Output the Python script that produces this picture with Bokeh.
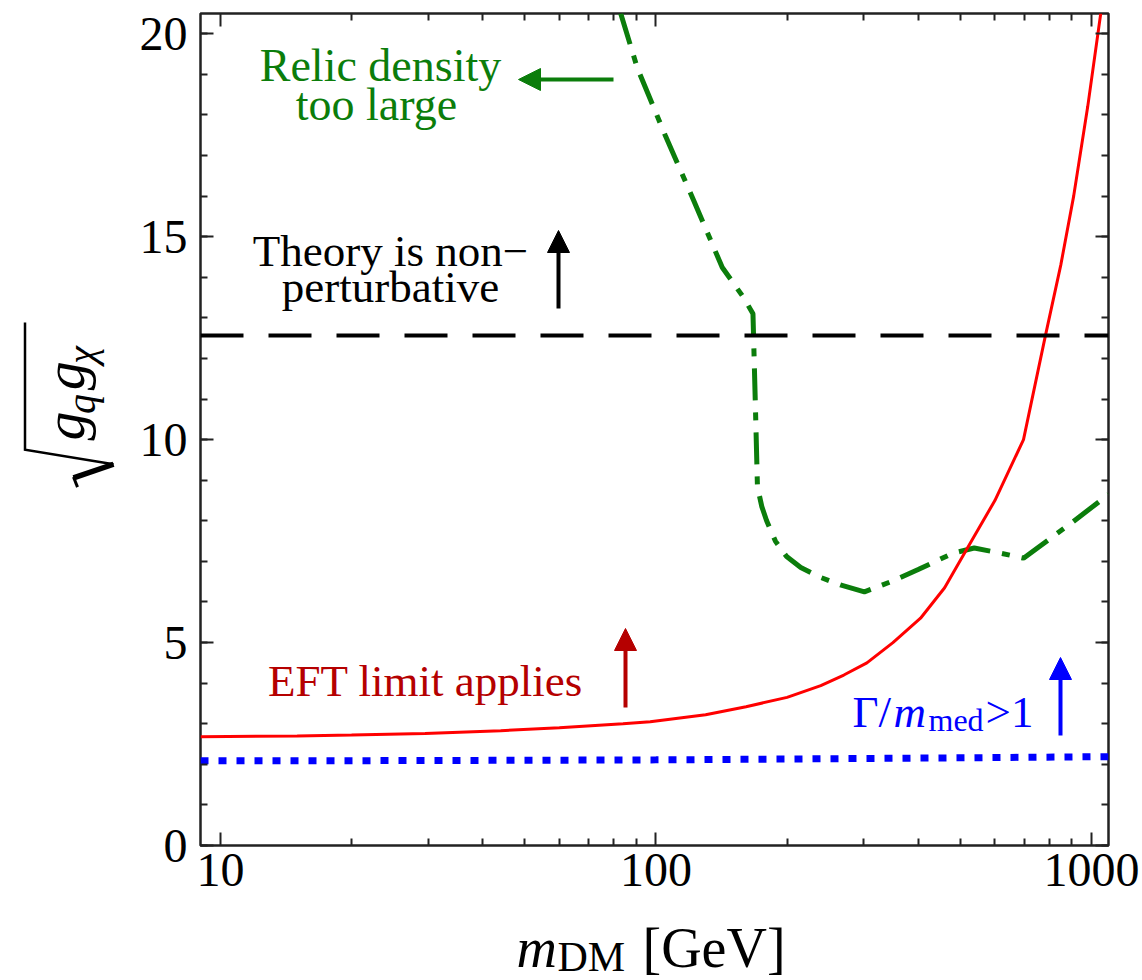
import numpy as np
from bokeh.plotting import figure
from bokeh.layouts import row, column
from bokeh.models import (Label, Arrow, NormalHead, Span, LinearAxis, LogAxis,
                          FixedTicker, CustomJSTickFormatter, Range1d)
from bokeh.core.properties import value
from bokeh.embed import file_html
from bokeh.resources import INLINE

# ---------------- data ----------------
EFT_X = [9, 15, 20, 29.5, 44, 60, 84, 97, 130, 161, 200, 239, 270, 305, 350, 405, 460, 517, 600, 698, 784, 850, 910, 980, 1050]
EFT_Y = [2.68, 2.70, 2.72, 2.76, 2.83, 2.90, 3.00, 3.05, 3.22, 3.42, 3.65, 3.94, 4.20, 4.50, 5.00, 5.60, 6.35, 7.30, 8.50, 10.0, 12.57, 14.3, 16.0, 18.2, 20.5]

RELIC_X = [83, 90.6, 105, 122, 142, 159, 167, 169, 171, 175, 179.5, 188, 199.5, 215, 237, 265, 301, 350, 400, 480, 538, 620, 698, 900, 1094]
RELIC_Y = [20.5, 19.16, 17.5, 15.9, 14.24, 13.5, 13.1, 11.0, 8.84, 8.35, 8.0, 7.5, 7.12, 6.85, 6.62, 6.42, 6.25, 6.52, 6.80, 7.20, 7.33, 7.20, 7.08, 7.95, 8.65]

WIDTH_X = [9, 20, 50, 100, 200, 500, 1100]
WIDTH_Y = [2.09, 2.09, 2.10, 2.11, 2.13, 2.16, 2.19]

PERTURBATIVE_LIMIT = 4 * np.pi

X_MAJOR = [10, 100, 1000]
X_TICK_LABELS = ["10", "100", "1000"]
X_MINOR = [20, 30, 40, 50, 60, 70, 80, 90, 200, 300, 400, 500, 600, 700, 800, 900]
Y_MAJOR = [0, 5, 10, 15, 20]
Y_TICK_LABELS = ["0", "5", "10", "15", "20"]
Y_MINOR = list(range(0, 21))

SERIF = "Liberation Serif"
GREEN = "#0b7d0b"
DARKRED = "#b50000"
BLUE = "#0000ff"
RED = "#ff0000"

YLAB_W = 120      # width of the strip that holds the y-axis title
MAIN_H = 910      # height of the main figure
XLAB_H = 70       # height of the strip that holds the x-axis title

p = figure(width=1142 - YLAB_W, height=MAIN_H, x_axis_type="log",
           x_range=Range1d(9.0, 1094), y_range=Range1d(0, 20.5),
           output_backend="svg", toolbar_location=None,
           min_border_left=80, min_border_right=34,
           min_border_top=13, min_border_bottom=MAIN_H - 845)
p.xgrid.visible = False
p.ygrid.visible = False
p.outline_line_color = "#222222"
p.outline_line_width = 2.5
p.background_fill_color = "white"
p.border_fill_color = "white"

xt = FixedTicker(ticks=X_MAJOR, minor_ticks=X_MINOR)
yt = FixedTicker(ticks=Y_MAJOR, minor_ticks=Y_MINOR)


def style_axis(ax, labels):
    ax.axis_line_color = None
    ax.major_tick_in = 13
    ax.major_tick_out = 0
    ax.minor_tick_in = 7
    ax.minor_tick_out = 0
    ax.major_tick_line_width = 2
    ax.minor_tick_line_width = 2
    ax.major_tick_line_color = "#222222"
    ax.minor_tick_line_color = "#222222"
    if labels:
        ax.major_label_text_font = SERIF
        ax.major_label_text_font_size = "48px"
        ax.major_label_text_color = "black"
    else:
        ax.formatter = CustomJSTickFormatter(code="return ''")
        ax.major_label_text_font_size = "1px"
        ax.major_label_standoff = 0


bx = p.xaxis[0]
bx.ticker = xt
bx.major_label_overrides = dict(zip(X_MAJOR, X_TICK_LABELS))
style_axis(bx, True)
bx.major_label_standoff = 8

ly = p.yaxis[0]
ly.ticker = yt
ly.major_label_overrides = dict(zip(Y_MAJOR, Y_TICK_LABELS))
style_axis(ly, True)
ly.major_label_standoff = 13

top = LogAxis(ticker=xt)
style_axis(top, False)
p.add_layout(top, "above")
right = LinearAxis(ticker=yt)
style_axis(right, False)
p.add_layout(right, "right")

# ---------------- curves ----------------
p.add_layout(Span(location=PERTURBATIVE_LIMIT, dimension="width", line_color="black",
                  line_width=4, line_dash="43 25"))
p.line(WIDTH_X, WIDTH_Y, line_color=BLUE, line_width=7, line_dash="8 10")
p.line(RELIC_X, RELIC_Y, line_color=GREEN, line_width=5, line_dash="32 12 8 12")
p.line(EFT_X, EFT_Y, line_color=RED, line_width=3)


# ---------------- in-plot annotations (screen units, relative to frame) ----------------
def lab(text, x, y, color="black", size=45, align="left", style="normal"):
    p.add_layout(Label(x=x, y=y, x_units="screen", y_units="screen", text=text,
                       text_font=SERIF, text_font_size=f"{size}px", text_color=color,
                       text_align=align, text_baseline="alphabetic",
                       text_font_style=style))


lab("Relic density", 180, 780, GREEN, size=46, align="center")
lab("too large", 176, 741, GREEN, size=46, align="center")
lab("Theory is non\u2212", 190, 595, align="center")
lab("perturbative", 190, 559, align="center")
lab("EFT limit applies", 225, 165, DARKRED, align="center")

# Γ/m_med>1
gx = 652
lab("\u0393/", gx, 134, BLUE)
lab("m", gx + 41, 134, BLUE, style="italic")
lab("med", gx + 76, 126, BLUE, size=32)
lab(">1", gx + 133, 134, BLUE)


def arrow(x0, y0, x1, y1, color):
    p.add_layout(Arrow(x_start=x0, y_start=y0, x_end=x1, y_end=y1,
                       start_units="screen", end_units="screen",
                       line_color=color, line_width=4,
                       end=NormalHead(size=22, fill_color=color, line_color=color)))


arrow(413, 766, 318, 766, GREEN)
arrow(358, 537, 358, 615, "black")
arrow(425, 138, 425, 217, DARKRED)
arrow(860, 110, 860, 188, BLUE)


# ---------------- axis titles, drawn in two plain strips (page pixel coordinates) ----------------
def strip(w, h, xr, yr):
    f = figure(width=w, height=h, x_range=xr, y_range=yr, output_backend="svg",
               toolbar_location=None, x_axis_location=None, y_axis_location=None,
               min_border=0, outline_line_color=None)
    f.xgrid.visible = False
    f.ygrid.visible = False
    f.background_fill_color = "white"
    f.border_fill_color = "white"
    return f


def txt(f, s, x, y, size, style="normal", angle=0.0):
    f.text(x=[x], y=[y], text=[s], text_font=value(SERIF), text_font_size=f"{size}px",
           text_font_style=style, text_color="black", text_align="left",
           text_baseline="alphabetic", angle=angle)


# x title: m_DM [GeV]
xs = strip(1142, XLAB_H, Range1d(0, 1142), Range1d(980, MAIN_H))
txt(xs, "m", 516, 947, 56, "italic")
txt(xs, "DM", 557, 956, 42)
txt(xs, "[GeV]", 642, 947, 56)

# y title: sqrt(g_q g_chi), rotated
ys = strip(YLAB_W, MAIN_H, Range1d(0, YLAB_W), Range1d(MAIN_H, 0))
rot = np.pi / 2
txt(ys, "g", 64, 467, 58, "italic", rot)
txt(ys, "q", 81, 438, 40, "italic", rot)
txt(ys, "g", 64, 412, 58, "italic", rot)
txt(ys, "\u03c7", 81, 383, 40, "italic", rot)
# radical sign
ys.line([24.5, 24.5, 113], [338, 477, 493], line_color="black", line_width=2.5,
        line_join="miter")
ys.line([113, 73], [493, 508], line_color="black", line_width=5.5)
ys.line([73, 77], [507, 518], line_color="black", line_width=3)

layout = column(row(ys, p), xs)
open("out.html", "w").write(file_html(layout, INLINE))
